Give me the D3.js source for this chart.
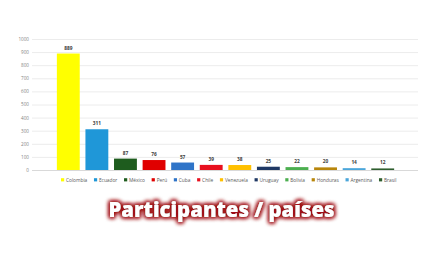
<!DOCTYPE html>
<html><head><meta charset="utf-8">
<script src="https://cdn.jsdelivr.net/npm/d3@7"></script>
<style>body{margin:0;background:#fff;}svg{display:block;}</style>
</head><body>
<svg id="c" width="440" height="264"></svg>
<script>
const countries = ["Colombia","Ecuador","México","Perú","Cuba","Chile","Venezuela","Uruguay","Bolivia","Honduras","Argentina","Brasil"];
const values = [889,311,87,76,57,39,38,25,22,20,14,12];
const colors = ["#FFFF00","#1F97D8","#1E5C1E","#E00000","#2F74C8","#E8101E","#FFC000","#1F3864","#4CAF50","#B8860B","#4BA6DA","#2E5E2E"];
const yTicks = [0,100,200,300,400,500,600,700,800,900,1000];
const title = "Participantes / países";

const svg = d3.select("#c");
const x = d3.scaleBand().domain(countries).range([54,397]).paddingInner(0.2).paddingOuter(0.1);
const y = d3.scaleLinear().domain([0,1000]).range([170,39]);

// gridlines
svg.append("g").selectAll("line").data(yTicks).join("line")
  .attr("x1",32).attr("x2",418)
  .attr("y1",d=>y(d)+0.5).attr("y2",d=>y(d)+0.5)
  .attr("stroke",d=>d===0?"#d9d9d9":"#ececec").attr("stroke-width",1);

// y axis labels
const yAxis = d3.axisLeft(y).tickValues(yTicks).tickFormat(d3.format("d")).tickSize(0).tickPadding(0);
const ga = svg.append("g").attr("transform","translate(29,0)").call(yAxis);
ga.select(".domain").remove();
ga.selectAll("text").attr("font-family","Open Sans, sans-serif").attr("font-size",4.6).attr("fill","#7f7f7f");

// bars
svg.append("g").selectAll("rect").data(values).join("rect")
  .attr("x",(d,i)=>x(countries[i])).attr("width",x.bandwidth())
  .attr("y",d=>y(d)).attr("height",d=>y(0)-y(d))
  .attr("fill",(d,i)=>colors[i]);

// value labels
svg.append("g").selectAll("text").data(values).join("text")
  .attr("x",(d,i)=>x(countries[i])+x.bandwidth()/2).attr("y",d=>y(d)-4)
  .attr("text-anchor","middle").attr("font-family","Open Sans, sans-serif")
  .attr("font-weight","bold").attr("font-size",4.8).attr("fill","#404040")
  .text(d=>d);

// legend
const lg = svg.append("g").attr("font-family","Open Sans, sans-serif").attr("font-size",4.8).attr("fill","#595959");
let lx = 61;
countries.forEach((c,i)=>{
  lg.append("rect").attr("x",lx).attr("y",178.2).attr("width",3.2).attr("height",3.2).attr("fill",colors[i]);
  const t = lg.append("text").attr("x",lx+5).attr("y",181.6).text(c);
  const w = t.node().getComputedTextLength();
  lx += 5 + w + 6.7;
});

// title with glow
const defs = svg.append("defs");
const f = defs.append("filter").attr("id","glow").attr("x","-20%").attr("y","-50%").attr("width","140%").attr("height","200%");
f.append("feMorphology").attr("in","SourceAlpha").attr("operator","dilate").attr("radius",1.0).attr("result","d");
f.append("feGaussianBlur").attr("in","d").attr("stdDeviation",2.0).attr("result","b");
f.append("feFlood").attr("flood-color","#9E0F14").attr("result","fc");
f.append("feComposite").attr("in","fc").attr("in2","b").attr("operator","in").attr("result","g");
const m = f.append("feMerge");
m.append("feMergeNode").attr("in","g");
m.append("feMergeNode").attr("in","g");
m.append("feMergeNode").attr("in","SourceGraphic");

svg.append("text").attr("x",221.5).attr("y",217)
  .attr("text-anchor","middle").attr("font-family","Open Sans, sans-serif")
  .attr("font-weight","800").attr("font-size",21).attr("fill","#ffffff")
  .attr("textLength",226).attr("lengthAdjust","spacingAndGlyphs")
  .attr("filter","url(#glow)")
  .text(title);
</script>
</body></html>
